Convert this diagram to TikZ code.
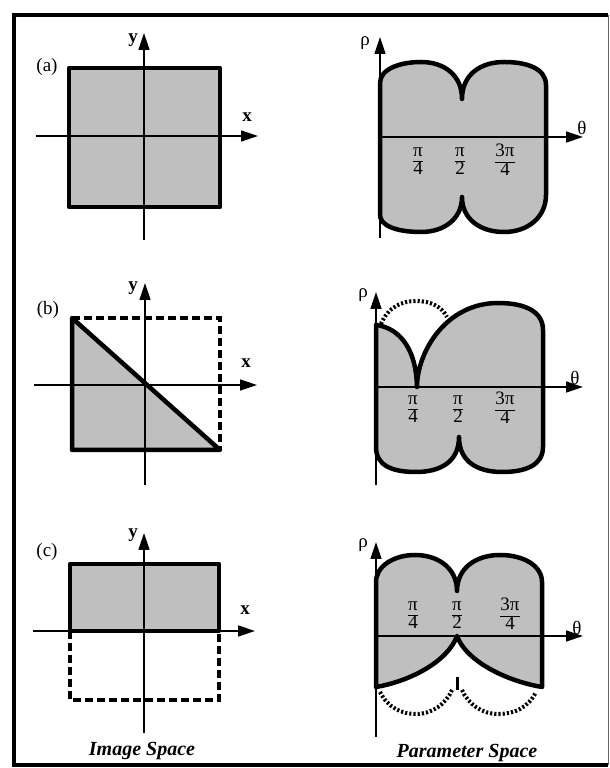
\documentclass[tikz,border=0pt]{standalone}
\usepackage{fontspec}
\setmainfont{Liberation Serif}
\usetikzlibrary{arrows.meta}
\definecolor{ShadeGray}{gray}{0.75}

\newcommand{\pifrac}[2]{{\setlength{\arrayrulewidth}{1pt}\renewcommand{\arraystretch}{0.8}\begin{tabular}{@{}c@{}}#1\\\hline #2\end{tabular}}}

\tikzset{
  axis/.style={line width=1.5pt,-{Triangle[length=17pt,width=11pt]}},
  outline/.style={line width=4.5pt,line join=round,fill=ShadeGray},
  hatchedge/.style={line width=4.5pt,dash pattern=on 8pt off 4pt},
  tickedge/.style={line width=4pt,dash pattern=on 2.2pt off 2pt},
  lbl/.style={font=\fontsize{19}{22}\selectfont,inner sep=0pt},
  axlbl/.style={font=\fontsize{19}{22}\selectfont\bfseries,inner sep=0pt},
  caption/.style={font=\fontsize{20}{24}\selectfont\bfseries\itshape,inner sep=0pt}
}

\begin{document}
\begin{tikzpicture}[x=1pt,y=1pt]
  \useasboundingbox (0,0) rectangle (610,768);
  % frame
  \draw[line width=4pt] (608,753) -- (14,753) -- (14,2.5) -- (608,2.5);
  \draw[line width=0.8pt,black!60] (608,753) -- (608,2.5);

  % (a) full square
  \begin{scope}[shift={(144,632)}]
    \filldraw[outline] (-75,-71) rectangle (76,68);
    \draw[axis] (-108,0) -- (114,0);
    \draw[axis] (0,-104) -- (0,103);
    \node[lbl] (tagA) at (-97,69) {(a)};
    \node[axlbl] (xA) at (103,19) {x};
    \node[axlbl] (yA) at (-11,96) {y};
  \end{scope}
  \begin{scope}[shift={(380,631)}]
    \filldraw[outline] (0,54) .. controls (0,68) and (20,75) .. (41,75)
      .. controls (64,75) and (82,62) .. (82,38)
      .. controls (82,62) and (100,75) .. (124,75)
      .. controls (148,75) and (166,68) .. (166,52) -- (166,-58)
      .. controls (166,-80) and (148,-95) .. (124,-95)
      .. controls (100,-95) and (82,-82) .. (82,-60)
      .. controls (82,-82) and (64,-95) .. (41,-95)
      .. controls (15,-95) and (0,-88) .. (0,-78) -- cycle;
    \draw[axis] (0,-101) -- (0,100);
    \draw[axis] (0,0) -- (203,0);
    \node[lbl] (thA) at (202,9) {θ};
    \node[lbl] (rhoA) at (-15,94) {ρ};
    \node[lbl] (qA) at (38,-25) {\pifrac{π}{4}};
    \node[lbl] (hA) at (80,-25) {\pifrac{π}{2}};
    \node[lbl] (tA) at (125,-25) {\pifrac{3π}{4}};
  \end{scope}

  % (b) triangle, diagonal edge
  \begin{scope}[shift={(145,383)}]
    \filldraw[outline] (75,-65) -- (-73,-65) -- (-73,67) -- cycle;
    \draw[hatchedge] (-73,67) -- (75,67) -- (75,-65);
    \draw[axis] (-111,0) -- (112,0);
    \draw[axis] (0,-100) -- (0,102);
    \node[lbl] (tagB) at (-97,75) {(b)};
    \node[axlbl] (xB) at (101,22) {x};
    \node[axlbl] (yB) at (-12,97) {y};
  \end{scope}
  \begin{scope}[shift={(376,381)}]
    \filldraw[outline] (0,62) .. controls (18,60) and (40,45) .. (41,0)
      .. controls (41,35) and (70,84) .. (122,84)
      .. controls (150,84) and (167,75) .. (167,57) -- (167,-60)
      .. controls (167,-78) and (150,-85) .. (126,-85)
      .. controls (102,-85) and (83,-75) .. (83,-50)
      .. controls (83,-75) and (64,-85) .. (40,-85)
      .. controls (15,-85) and (0,-78) .. (0,-60) -- cycle;
    \draw[tickedge] (5,63) .. controls (12,80) and (26,86) .. (40,86)
      .. controls (55,86) and (66,80) .. (71,70);
    \draw[axis] (0,-98) -- (0,95);
    \draw[axis] (0,0) -- (207,0);
    \node[lbl] (thB) at (199,9) {θ};
    \node[lbl] (rhoB) at (-13,92) {ρ};
    \node[lbl] (qB) at (37,-23) {\pifrac{π}{4}};
    \node[lbl] (hB) at (82,-23) {\pifrac{π}{2}};
    \node[lbl] (tB) at (129,-23) {\pifrac{3π}{4}};
  \end{scope}

  % (c) upper half only
  \begin{scope}[shift={(144,137)}]
    \filldraw[outline] (-74,0) rectangle (75,67);
    \draw[hatchedge] (-74,0) -- (-74,-69) -- (75,-69) -- (75,0);
    \draw[axis] (-111,0) -- (111,0);
    \draw[axis] (0,-102) -- (0,98);
    \node[lbl] (tagC) at (-97,79) {(c)};
    \node[axlbl] (xC) at (101,21) {x};
    \node[axlbl] (yC) at (-11,96) {y};
  \end{scope}
  \begin{scope}[shift={(376,132)}]
    \filldraw[outline] (0,54) .. controls (0,70) and (18,81) .. (39,81)
      .. controls (62,81) and (81,68) .. (81,45)
      .. controls (81,68) and (100,81) .. (124,81)
      .. controls (148,81) and (166,70) .. (166,54) -- (166,-51)
      .. controls (130,-45) and (90,-25) .. (81,0)
      .. controls (72,-25) and (35,-45) .. (0,-51) -- cycle;
    \draw[tickedge] (4,-56) .. controls (12,-72) and (26,-78) .. (40,-78)
      .. controls (56,-78) and (70,-68) .. (76,-54);
    \draw[tickedge] (86,-54) .. controls (92,-68) and (106,-78) .. (122,-78)
      .. controls (138,-78) and (152,-72) .. (160,-56);
    \draw[line width=3pt] (81,-41) -- (81,-54);
    \draw[axis] (0,-101) -- (0,94);
    \draw[axis] (0,0) -- (207,0);
    \node[lbl] (thC) at (201,8) {θ};
    \node[lbl] (rhoC) at (-13,91) {ρ};
    \node[lbl] (qC) at (37,20) {\pifrac{π}{4}};
    \node[lbl] (hC) at (81,20) {\pifrac{π}{2}};
    \node[lbl] (tC) at (134,20) {\pifrac{3π}{4}};
  \end{scope}

  \node[caption] (imgcap) at (142,17) {Image Space};
  \node[caption] (parcap) at (467,15) {Parameter Space};
\end{tikzpicture}
\end{document}
